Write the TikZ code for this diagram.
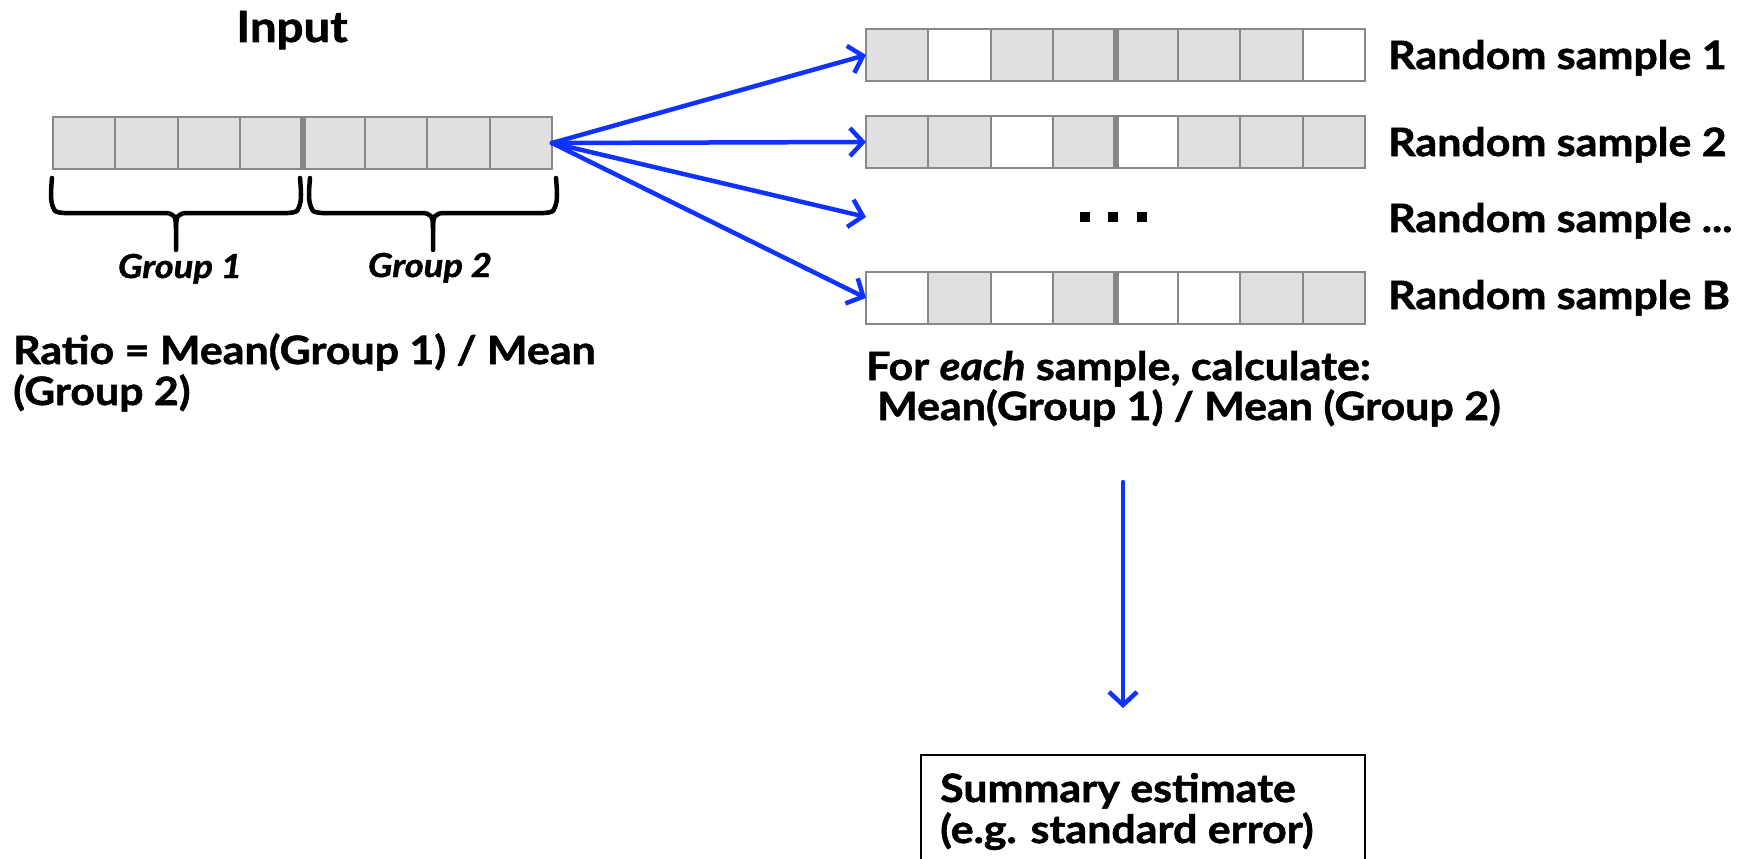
\documentclass[tikz,border=0pt]{standalone}
\usepackage{fontspec}
\setmainfont{Lato}[FakeStretch=1.1, BoldFeatures={FakeBold=1.4}, BoldItalicFeatures={FakeBold=1.4}]
\usetikzlibrary{arrows.meta}
\definecolor{G}{HTML}{E0E0E0}
\definecolor{W}{HTML}{FFFFFF}
\definecolor{cellline}{HTML}{888888}
\definecolor{arrowblue}{RGB}{16,50,255}
\newcommand{\cellrow}[4]{%
  \foreach \c [count=\i from 0] in {#4} {
    \draw[cellline, line width=2.2pt, fill=\c] ({#2+\i*62.375},#3) rectangle ++(62.375,52);
  }
  \draw[cellline, line width=6pt] ({#2+4*62.375},#3) -- ++(0,52);
  \node[draw=none, minimum width=499pt, minimum height=52pt, inner sep=0pt, outer sep=0pt, anchor=north west] (#1) at (#2,#3) {};
}
\begin{document}
\begin{tikzpicture}[x=1pt,y=-1pt,
  txt/.style={font=\fontsize{39}{45}\selectfont\bfseries, inner sep=0pt, anchor=base west},
  grp/.style={font=\fontsize{33}{38}\selectfont\bfseries\itshape, inner sep=0pt, anchor=base},
  arr/.style={draw=arrowblue, line width=4.5pt, line cap=round, line join=round,
     -{Straight Barb[length=13pt,width=28pt,line width=4.5pt]}},
  bracestyle/.style={draw=black, line width=4.5pt, line cap=round, line join=round},
  dotsq/.style={fill=black, minimum size=10pt, inner sep=0pt}
]
\useasboundingbox (0,0) rectangle (1756,859);

% title
\node[txt, font=\fontsize{43}{48}\selectfont\bfseries, anchor=base] (title) at (292,42) {Input};

% input bar
\cellrow{inbar}{53}{117}{G,G,G,G,G,G,G,G}

% braces
\draw[bracestyle] (52,178) .. controls (51,190) and (50,200) .. (53,207) .. controls (55,212) .. (64,213) -- (164,213)
   .. controls (174,213) and (176,216) .. (176,228) -- (176,250);
\draw[bracestyle] (176,228) .. controls (176,216) and (178,213) .. (188,213) -- (288,213)
   .. controls (297,212) .. (299,207) .. controls (302,200) and (301,190) .. (300,178);
\draw[bracestyle] (310,178) .. controls (309,190) and (308,200) .. (311,207) .. controls (313,212) .. (322,213) -- (421,213)
   .. controls (431,213) and (433,216) .. (433,228) -- (433,250);
\draw[bracestyle] (433,228) .. controls (433,216) and (435,213) .. (445,213) -- (544,213)
   .. controls (553,212) .. (555,207) .. controls (558,200) and (557,190) .. (556,178);

\node[grp] (g1) at (180,278) {Group 1};
\node[grp] (g2) at (430,277) {Group 2};

\node[txt] (ratio1) at (13,364) {Ratio = Mean(Group 1) / Mean};
\node[txt] (ratio2) at (13,405) {(Group 2)};

% sample bars
\cellrow{s1}{866}{29}{G,W,G,G,G,G,G,W}
\cellrow{s2}{866}{116}{G,G,W,G,W,G,G,G}
\cellrow{sB}{866}{272}{W,G,W,G,W,W,G,G}
\coordinate (sdots) at (866,217);
\node[dotsq] (d1) at (1085,217) {};
\node[dotsq] (d2) at (1113,217) {};
\node[dotsq] (d3) at (1142,217) {};

% labels
\node[txt] (l1) at (1388,69) {Random sample 1};
\node[txt] (l2) at (1388,156) {Random sample 2};
\node[txt] (l3) at (1388,232) {Random sample ...};
\node[txt] (lB) at (1388,309) {Random sample B};

% arrows
\draw[arr] (inbar.east) -- (s1.west);
\draw[arr] (inbar.east) -- (s2.west);
\draw[arr] (inbar.east) -- (sdots);
\draw[arr] (inbar.east) -- (sB.west);

% calculation text
\node[txt] (calc1) at (866,380) {For \textit{each} sample, calculate:};
\node[txt] (calc2) at (877,420) {Mean(Group 1) / Mean (Group 2)};

% down arrow
\coordinate (dtop) at (1123,482);
\coordinate (dbot) at (1123,708);
\draw[arr] (dtop) -- (dbot);

% summary box
\node[draw=black, line width=1.6pt, minimum width=444pt, minimum height=140pt, inner sep=0pt, anchor=north west] (sumbox) at (920,754) {};
\node[txt] (sum1) at (940,802) {Summary estimate};
\node[txt] (sum2) at (940,843) {(e.g. standard error)};
\end{tikzpicture}
\end{document}
